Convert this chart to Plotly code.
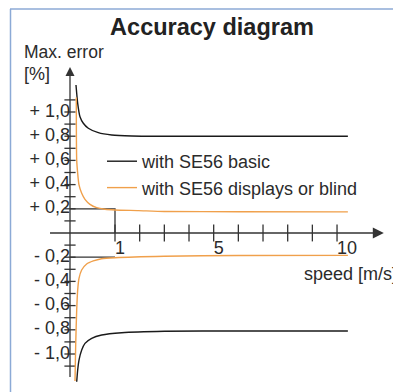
import numpy as np
import plotly.graph_objects as go

# Max. error [%] over speed [m/s]
basic_up_speed = [0.133, 0.171, 0.222, 0.296, 0.407, 0.629, 0.927, 1.68, 3.0, 6.0, 10.44]
basic_up_err = [1.223, 1.072, 0.961, 0.907, 0.866, 0.829, 0.81, 0.802, 0.80, 0.80, 0.80]
basic_lo_speed = [0.149, 0.171, 0.2, 0.26, 0.333, 0.482, 0.704, 1.27, 3.0, 6.0, 10.44]
basic_lo_err = [-1.229, -1.132, -1.05, -0.967, -0.912, -0.87, -0.843, -0.824, -0.812, -0.81, -0.81]

disp_up_speed = [0.14, 0.149, 0.171, 0.2, 0.26, 0.333, 0.444, 0.593, 0.778, 1.0, 1.95, 3.0, 6.0, 10.44]
disp_up_err = [1.12, 0.603, 0.493, 0.397, 0.328, 0.278, 0.237, 0.209, 0.196, 0.19, 0.185, 0.178, 0.176, 0.175]
disp_lo_speed = [0.111, 0.127, 0.149, 0.171, 0.2, 0.259, 0.37, 0.518, 0.7, 1.0, 3.0, 6.0, 10.44]
disp_lo_err = [-1.223, -0.917, -0.636, -0.471, -0.375, -0.306, -0.256, -0.231, -0.213, -0.204, -0.192, -0.186, -0.185]

# axis ticks
x_ticks = [1, 2, 3, 4, 5, 6, 7, 8, 9, 10]
x_label_vals = [1, 5, 10]
x_label_text = ['1', '5', '10']
y_ticks = [-1.1, -1.0, -0.9, -0.8, -0.7, -0.6, -0.5, -0.4, -0.3, -0.2, -0.1,
           0.1, 0.2, 0.3, 0.4, 0.5, 0.6, 0.7, 0.8, 0.9, 1.0, 1.1]
y_label_vals = [1.0, 0.8, 0.6, 0.4, 0.2, -0.2, -0.4, -0.6, -0.8, -1.0]
y_label_text = ['+ 1,0', '+ 0,8', '+ 0,6', '+ 0,4', '+ 0,2',
                '- 0,2', '- 0,4', '- 0,6', '- 0,8', '- 1,0']

# reference mark: 1 m/s -> 0.2 %
ref_speed = 1
ref_err = 0.2

FONT = 'Liberation Sans, Arial, sans-serif'
TXT = '#2b2b2b'
AX = '#333333'
ORANGE = '#f0a04b'
FS = 18


def axis_pos(v):
    # the drawing stretches the first 0..1 m/s compared to the rest
    v = np.asarray(v, dtype=float)
    return np.interp(v, [0, 1, 20], [0, 1.824, 20.824])


def join(xa, ya, xb, yb):
    return list(axis_pos(xa)) + [None] + list(axis_pos(xb)), list(ya) + [None] + list(yb)


fig = go.Figure()

# axes drawn as lines with arrow heads
fig.add_trace(go.Scatter(x=[-0.81, 12.6], y=[0, 0], mode='lines',
                         line=dict(color=AX, width=1.3), showlegend=False, hoverinfo='skip'))
fig.add_trace(go.Scatter(x=[0, 0], y=[-1.19, 1.32], mode='lines',
                         line=dict(color=AX, width=1.3), showlegend=False, hoverinfo='skip'))
fig.add_trace(go.Scatter(x=[12.72], y=[0], mode='markers', cliponaxis=False,
                         marker=dict(symbol='arrow-right', size=11, color=AX, line=dict(width=0)),
                         showlegend=False, hoverinfo='skip'))
fig.add_trace(go.Scatter(x=[0], y=[1.372], mode='markers', cliponaxis=False,
                         marker=dict(symbol='arrow-up', size=9, color=AX, line=dict(width=0)),
                         showlegend=False, hoverinfo='skip'))

# ticks crossing the axes
fig.add_trace(go.Scatter(x=axis_pos(x_ticks), y=[0] * len(x_ticks), mode='markers',
                         marker=dict(symbol='line-ns', size=12, line=dict(color=AX, width=1.3)),
                         showlegend=False, hoverinfo='skip'))
fig.add_trace(go.Scatter(x=[0] * len(y_ticks), y=y_ticks, mode='markers',
                         marker=dict(symbol='line-ew', size=8, line=dict(color=AX, width=1.3)),
                         showlegend=False, hoverinfo='skip'))

# tick labels
fig.add_trace(go.Scatter(x=[0] * len(y_label_vals), y=y_label_vals, mode='text',
                         text=y_label_text, textposition='middle left', cliponaxis=False,
                         textfont=dict(family=FONT, size=FS, color=TXT),
                         showlegend=False, hoverinfo='skip'))
fig.add_trace(go.Scatter(x=axis_pos(x_label_vals), y=[-0.06] * len(x_label_vals), mode='text',
                         text=x_label_text, textposition='bottom right', cliponaxis=False,
                         textfont=dict(family=FONT, size=FS, color=TXT),
                         showlegend=False, hoverinfo='skip'))

# reference marks at 1 m/s
rx = float(axis_pos(ref_speed))
fig.add_trace(go.Scatter(x=[0, rx, rx], y=[ref_err, ref_err, 0], mode='lines',
                         line=dict(color=AX, width=1.3), showlegend=False, hoverinfo='skip'))
fig.add_trace(go.Scatter(x=[0, rx], y=[-ref_err, -ref_err], mode='lines',
                         line=dict(color=AX, width=1.3), showlegend=False, hoverinfo='skip'))

# curves
bx, by = join(basic_up_speed, basic_up_err, basic_lo_speed, basic_lo_err)
fig.add_trace(go.Scatter(x=bx, y=by, mode='lines', name='with SE56 basic',
                         line=dict(color='#1a1a1a', width=1.4, shape='spline', smoothing=0.6)))
dx, dy = join(disp_up_speed, disp_up_err, disp_lo_speed, disp_lo_err)
fig.add_trace(go.Scatter(x=dx, y=dy, mode='lines', name='with SE56 displays or blind',
                         line=dict(color=ORANGE, width=1.4, shape='spline', smoothing=0.6)))

# the page body has an 8 px margin, so the figure is drawn 8 px in from the window corner;
# positions below are given in window pixels and converted
OFF = 8
FW, FH = 401 - OFF, 392 - OFF
L, R, T, B = 12, 5, 47, 5
W, H = FW - L - R, FH - T - B


def px(x):
    return (x - OFF - L) / W


def py(y):
    return (OFF + FH - B - y) / H


fig.update_layout(
    width=FW, height=FH,
    margin=dict(l=L, r=R, t=T, b=B),
    paper_bgcolor='white', plot_bgcolor='white',
    xaxis=dict(range=[(OFF + L - 70) / 24.67, (OFF + FW - R - 70) / 24.67], visible=False),
    yaxis=dict(range=[(233 - (OFF + FH - B)) / 121, (233 - OFF - T) / 121], visible=False),
    title=dict(text='<b>Accuracy diagram</b>', x=(212 - OFF) / FW, xanchor='center',
               y=1 - (27 - OFF) / FH, yanchor='middle', xref='container', yref='container',
               font=dict(family=FONT, size=23.5, color='#222222')),
    legend=dict(x=px(102), y=py(143), xanchor='left', yanchor='top',
                font=dict(family=FONT, size=FS, color=TXT), bgcolor='rgba(0,0,0,0)'),
    annotations=[
        dict(text='Max. error', x=px(22), y=py(52), xref='paper', yref='paper',
             xanchor='left', yanchor='middle', showarrow=False,
             font=dict(family=FONT, size=17.5, color=TXT)),
        dict(text='[%]', x=px(22), y=py(74), xref='paper', yref='paper',
             xanchor='left', yanchor='middle', showarrow=False,
             font=dict(family=FONT, size=FS, color=TXT)),
        dict(text='speed [m/s]', x=px(399), y=py(274), xref='paper', yref='paper',
             xanchor='right', yanchor='middle', showarrow=False,
             font=dict(family=FONT, size=FS, color=TXT)),
    ],
    shapes=[
        dict(type='line', xref='paper', yref='paper', x0=px(10.5), x1=px(10.5),
             y0=py(9), y1=py(392), line=dict(color='#8caad6', width=1.5)),
        dict(type='line', xref='paper', yref='paper', x0=px(10), x1=px(401),
             y0=py(9), y1=py(9), line=dict(color='#8caad6', width=1.5)),
    ],
)

fig.write_html('out.html')
